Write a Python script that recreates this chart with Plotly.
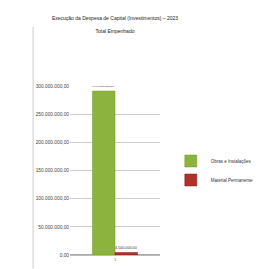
import plotly.graph_objects as go

categories = ["1"]
series_names = ["Obras e Instalações", "Material Permanente"]
obras = [291000000.00]
material = [4500000.00]
tick_vals = [0, 50000000, 100000000, 150000000, 200000000, 250000000, 300000000]
tick_text = ["0,00", "50.000.000,00", "100.000.000,00", "150.000.000,00",
             "200.000.000,00", "250.000.000,00", "300.000.000,00"]

def fmt(v):
    s = f"{v:,.2f}"
    return s.replace(",", "X").replace(".", ",").replace("X", ".")

fig = go.Figure()
fig.add_trace(go.Bar(x=categories, y=obras, name=series_names[0],
                     marker=dict(color="#8cb43c", line=dict(color="#6f9a2a", width=0.5)),
                     text=[fmt(v) for v in obras], textposition="outside",
                     textfont=dict(size=4, color="#333")))
fig.add_trace(go.Bar(x=categories, y=material, name=series_names[1],
                     marker=dict(color="#b0302a", line=dict(color="#8a1f1a", width=0.5)),
                     text=[fmt(v) for v in material], textposition="outside",
                     textfont=dict(size=4, color="#333")))

fig.update_layout(
    width=263, height=269,
    paper_bgcolor="white", plot_bgcolor="white",
    margin=dict(l=62, r=75, t=78, b=22),
    barmode="group", bargap=0.5, bargroupgap=0.0,
    title=dict(text="Execução da Despesa de Capital (Investimentos) – 2023<br><br>Total Empenhado",
               x=0.5, xref="paper", y=0.955, yanchor="top",
               font=dict(family="Liberation Sans Narrow, Arial Narrow, Liberation Sans", size=5, color="#222")),
    showlegend=True,
    legend=dict(x=1.12, y=0.5, xanchor="left", yanchor="middle",
                font=dict(family="Liberation Sans Narrow, Liberation Sans", size=4.5, color="#333"),
                itemwidth=30, bgcolor="rgba(0,0,0,0)", tracegroupgap=0),
    font=dict(family="Liberation Sans", size=4, color="#333"),
)
fig.update_yaxes(range=[0, 300000000], tickvals=tick_vals, ticktext=tick_text,
                 showgrid=True, gridcolor="#d0d0d0", gridwidth=0.6,
                 showline=False, zeroline=True, zerolinecolor="#aaa",
                 tickfont=dict(size=4.8, color="#444"), ticks="", ticklen=0)
fig.update_xaxes(showgrid=False, showline=True, linecolor="#bbb",
                 tickfont=dict(size=4, color="#666"))
fig.add_shape(type="line", xref="paper", yref="paper", x0=-0.41, x1=-0.41, y0=-0.08, y1=1.35,
              line=dict(color="#cccccc", width=1))
fig.write_html("out.html")
